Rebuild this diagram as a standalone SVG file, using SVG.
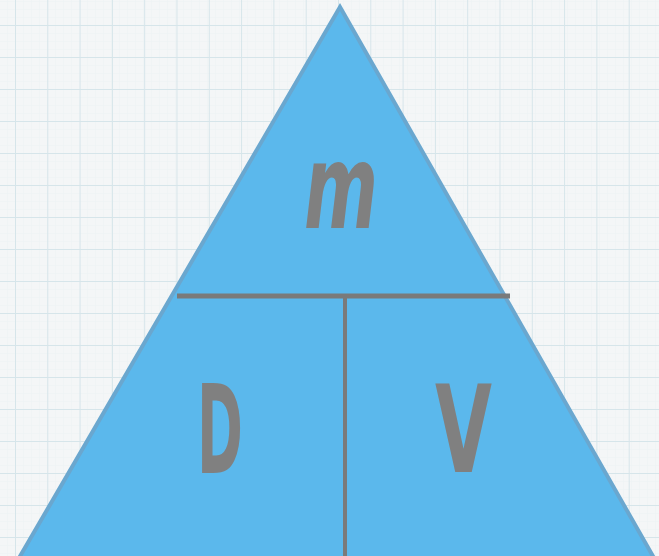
<svg xmlns="http://www.w3.org/2000/svg" width="659" height="556" viewBox="0 0 659 556">
  <defs>
    <pattern id="minor" width="8" height="8" patternUnits="userSpaceOnUse" x="15" y="25">
      <path d="M0 0H8M0 0V8" stroke="#ebf1f3" stroke-width="1" fill="none"/>
    </pattern>
    <pattern id="major" width="32.3" height="32" patternUnits="userSpaceOnUse" x="15" y="25">
      <path d="M0 0H32.3M0 0V32" stroke="#d6e5ea" stroke-width="2" fill="none"/>
    </pattern>
  </defs>
  <style>
    .letter { font-family: "DejaVu Sans", sans-serif; font-weight: bold; fill: #808080; }
    .div { stroke: #7a7a7a; fill: none; }
  </style>
  <rect width="659" height="556" fill="#f4f6f7"/>
  <rect width="659" height="556" fill="url(#minor)"/>
  <rect width="659" height="556" fill="url(#major)"/>
  <g id="triangle">
    <polygon points="340,7 654,558 19,558" fill="#5bb8ec" stroke="#6aa7cf" stroke-width="4" stroke-linejoin="miter"/>
  </g>
  <g id="connectors">
    <line class="div" x1="177" y1="296" x2="510" y2="296" stroke-width="5"/>
    <line class="div" x1="345" y1="296" x2="345" y2="556" stroke-width="4"/>
  </g>
  <g id="node-m">
    <text class="letter" x="304" y="228" font-size="118" font-style="italic" textLength="74" lengthAdjust="spacingAndGlyphs">m</text>
  </g>
  <g id="node-D">
    <text class="letter" x="197" y="473" font-size="123" textLength="46" lengthAdjust="spacingAndGlyphs">D</text>
  </g>
  <g id="node-V">
    <text class="letter" x="435" y="472" font-size="122" textLength="57" lengthAdjust="spacingAndGlyphs">V</text>
  </g>
</svg>
